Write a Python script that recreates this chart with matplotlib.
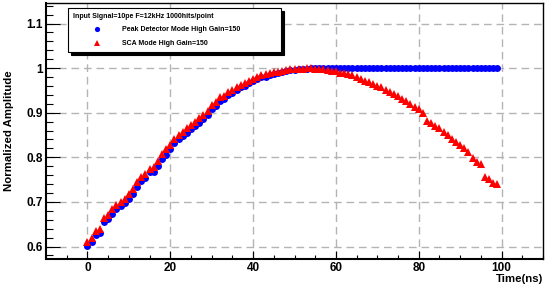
import matplotlib
matplotlib.use("Agg")
import matplotlib.pyplot as plt
from matplotlib.ticker import MultipleLocator

plt.rcParams['font.family'] = ['Liberation Sans', 'DejaVu Sans']
plt.rcParams['font.weight'] = 'bold'

# time in ns, one point per ns
time_ns = list(range(100))

peak_detector = [
    0.601, 0.610, 0.625, 0.631, 0.656, 0.662, 0.673, 0.683, 0.690, 0.698,
    0.707, 0.717, 0.734, 0.748, 0.754, 0.766, 0.768, 0.781, 0.797, 0.805,
    0.818, 0.831, 0.841, 0.847, 0.855, 0.863, 0.870, 0.878, 0.885, 0.894,
    0.908, 0.915, 0.926, 0.930, 0.939, 0.945, 0.951, 0.957, 0.960, 0.966,
    0.970, 0.975, 0.979, 0.981, 0.984, 0.987, 0.988, 0.991, 0.993, 0.995,
    0.996, 0.997, 0.998, 0.999, 1.000, 1.000, 1.000, 1.000, 1.000, 1.000,
    1.000, 1.000, 1.000, 1.000, 1.000, 1.000, 1.000, 1.000, 1.000, 1.000,
    1.000, 1.000, 1.000, 1.000, 1.000, 1.000, 1.000, 1.000, 1.000, 1.000,
    1.000, 1.000, 1.000, 1.000, 1.000, 1.000, 1.000, 1.000, 1.000, 1.000,
    1.000, 1.000, 1.000, 1.000, 1.000, 1.000, 1.000, 1.000, 1.000, 1.000,
]

sca_mode = [
    0.611, 0.620, 0.635, 0.640, 0.664, 0.670, 0.683, 0.692, 0.700, 0.707,
    0.718, 0.728, 0.745, 0.756, 0.763, 0.774, 0.778, 0.792, 0.808, 0.818,
    0.828, 0.840, 0.850, 0.857, 0.865, 0.872, 0.880, 0.888, 0.895, 0.904,
    0.917, 0.924, 0.935, 0.938, 0.946, 0.952, 0.958, 0.963, 0.967, 0.972,
    0.976, 0.980, 0.984, 0.986, 0.989, 0.991, 0.992, 0.994, 0.996, 0.997,
    0.998, 0.999, 0.999, 1.000, 1.000, 0.999, 0.998, 0.997, 0.996, 0.994,
    0.993, 0.989, 0.988, 0.987, 0.985, 0.980, 0.975, 0.971, 0.968, 0.965,
    0.960, 0.957, 0.952, 0.946, 0.941, 0.938, 0.931, 0.926, 0.919, 0.913,
    0.909, 0.900, 0.882, 0.876, 0.870, 0.865, 0.857, 0.849, 0.842, 0.835,
    0.828, 0.822, 0.813, 0.798, 0.790, 0.785, 0.756, 0.751, 0.743, 0.740,
]

legend_title = "Input Signal=10pe F=12kHz 1000hits/point"
label_peak = "Peak Detector Mode High Gain=150"
label_sca = "SCA Mode High Gain=150"

fig = plt.figure(figsize=(5.45, 2.86), dpi=100)
ax = fig.add_axes([46/545, 1-259/286, 497/545, 256/286])

ax.plot(time_ns, peak_detector, 'o', color='#0000ff', markersize=5,
        markeredgewidth=0, label=label_peak)
ax.plot(time_ns, sca_mode, '^', color='#ff0000', markersize=5.5,
        markeredgewidth=0, label=label_sca)

ax.set_xlim(-10, 110)
ax.set_ylim(0.572, 1.146)

ax.xaxis.set_major_locator(MultipleLocator(20))
ax.xaxis.set_minor_locator(MultipleLocator(5))
ax.yaxis.set_minor_locator(MultipleLocator(0.02))
ax.set_yticks([0.6, 0.7, 0.8, 0.9, 1.0, 1.1])
ax.set_yticklabels(['0.6', '0.7', '0.8', '0.9', '1', '1.1'])

ax.tick_params(which='both', direction='in', top=False, right=False,
               labelsize=8.5, pad=2)
ax.tick_params(axis='y', which='major', length=10, width=0.8)
ax.tick_params(axis='y', which='minor', length=5, width=0.8)
ax.tick_params(axis='x', which='major', length=6, width=0.8)
ax.tick_params(axis='x', which='minor', length=3, width=0.8)

ax.grid(True, which='major', color='#b4b4b4', linewidth=1,
        linestyle=(0, (5.5, 3.5)))
ax.set_axisbelow(True)

for side in ['left', 'bottom']:
    ax.spines[side].set_linewidth(1.5)
for side in ['top', 'right']:
    ax.spines[side].set_linewidth(1.0)

ax.set_ylabel("Normalized Amplitude", fontsize=8.2, fontweight='bold')
ax.yaxis.set_label_coords(-0.064, 0.5)
ax.set_xlabel("Time(ns)", fontsize=8.2, fontweight='bold', loc='right')
ax.xaxis.set_label_coords(1.0, -0.057)

leg = ax.legend(title=legend_title, loc='upper left',
                bbox_to_anchor=(68/545, 1-53/286, 213/545, 45/286),
                bbox_transform=fig.transFigure, mode='expand',
                fontsize=5, title_fontsize=5, alignment='left',
                numpoints=1, handlelength=7.0, handletextpad=0.15,
                labelspacing=1.0, borderpad=0.65, borderaxespad=0,
                markerscale=0.75, fancybox=False,
                shadow={'color': 'black', 'alpha': 1},
                edgecolor='black', framealpha=1)
leg.get_frame().set_linewidth(0.8)
leg.get_title().set_fontweight('bold')

fig.savefig("out.png", dpi=100)
